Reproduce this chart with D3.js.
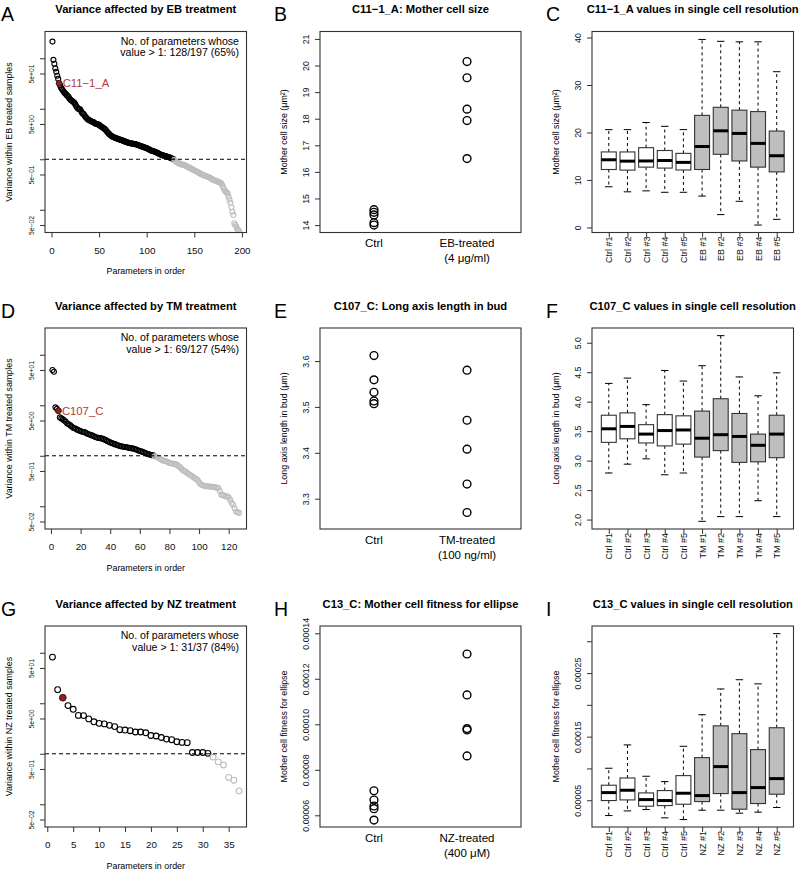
<!DOCTYPE html>
<html lang="en">
<head>
<meta charset="UTF-8">
<title>Variance panels</title>
<script src="https://cdn.jsdelivr.net/npm/d3@7"></script>
<style>
  body { margin: 0; background: #fff; }
  svg { font-family: "Liberation Sans", Arial, Helvetica, sans-serif; }
</style>
</head>
<body>
<div id="chart"></div>
<script>
// ---- data ----

// A: variance within EB treated samples, sorted (197 parameters)
var varEB = [214, 93, 78, 63, 54, 45, 39, 32, 29, 26,
  24.5, 23, 21.4, 20.4, 19.5, 18.6, 17.8, 17, 15.8, 15.1,
  14.6, 14.1, 13.6, 13.2, 12.2, 11.2, 10.6, 10, 9.9, 9.8,
  9.0, 8.3, 8.0, 7.8, 7.2, 6.8, 6.5, 6.2, 6.0, 5.9,
  5.75, 5.6, 5.55, 5.45, 5.25, 5.1, 5.0, 4.95, 4.9, 4.8,
  4.6, 4.45, 4.35, 4.2, 4.1, 3.95, 3.8, 3.6, 3.4, 3.25,
  3.1, 3.0, 2.9, 2.8, 2.75, 2.7, 2.65, 2.6, 2.57, 2.5,
  2.48, 2.45, 2.4, 2.37, 2.34, 2.3, 2.26, 2.21, 2.19, 2.14,
  2.11, 2.09, 2.07, 2.05, 2.04, 2.02, 2.0, 1.98, 1.96, 1.95,
  1.92, 1.88, 1.85, 1.82, 1.78, 1.76, 1.73, 1.71, 1.68, 1.66,
  1.62, 1.58, 1.55, 1.51, 1.48, 1.46, 1.44, 1.42, 1.40, 1.38,
  1.35, 1.32, 1.29, 1.26, 1.23, 1.21, 1.20, 1.18, 1.16, 1.15,
  1.13, 1.12, 1.10, 1.09, 1.07, 1.05, 1.02, 1.01,
  0.98, 0.91, 0.89, 0.87, 0.85, 0.83, 0.81, 0.80, 0.79, 0.78, 0.77, 0.76,
  0.74, 0.72, 0.71, 0.69, 0.68, 0.66, 0.65, 0.63, 0.62, 0.60,
  0.59, 0.58, 0.56, 0.55, 0.54, 0.52, 0.51, 0.50, 0.49, 0.48,
  0.47, 0.466, 0.46, 0.45, 0.447, 0.435, 0.42, 0.41, 0.40, 0.39,
  0.385, 0.38, 0.373, 0.367, 0.36, 0.355, 0.347, 0.34, 0.316, 0.288,
  0.263, 0.24, 0.229, 0.219, 0.209, 0.182, 0.158, 0.138, 0.112, 0.091,
  0.079, 0.054, 0.050, 0.047, 0.042, 0.040, 0.037];

// D: variance within TM treated samples (127 parameters)
var varTM = [50, 46, 9.1, 8.5, 7.8, 5.75, 5.5, 5.25, 5.0, 4.7,
  4.35, 4.2, 4.0, 3.8, 3.6, 3.5, 3.4, 3.25, 3.15, 3.1,
  3.0, 2.95, 2.9, 2.8, 2.7, 2.63, 2.57, 2.5, 2.43, 2.35,
  2.3, 2.26, 2.24, 2.21, 2.18, 2.11, 2.04, 1.97, 1.9, 1.84,
  1.78, 1.74, 1.70, 1.66, 1.62, 1.58, 1.55, 1.53, 1.51, 1.49,
  1.47, 1.45, 1.43, 1.41, 1.40, 1.38, 1.35, 1.32, 1.27, 1.24,
  1.22, 1.19, 1.16, 1.12, 1.10, 1.07, 1.05, 1.03, 1.016,
  0.98, 0.955, 0.93, 0.89, 0.85, 0.82, 0.80, 0.785, 0.77, 0.75, 0.72,
  0.71, 0.70, 0.69, 0.685, 0.66, 0.63, 0.60, 0.56, 0.52, 0.50,
  0.48, 0.457, 0.436, 0.417, 0.40, 0.38, 0.363, 0.347, 0.33, 0.30,
  0.275, 0.263, 0.257, 0.25, 0.25, 0.248, 0.245, 0.244, 0.243, 0.24,
  0.237, 0.234, 0.229, 0.20, 0.17, 0.166, 0.162, 0.158, 0.155, 0.151,
  0.135, 0.117, 0.107, 0.091, 0.079, 0.076, 0.074];

// G: variance within NZ treated samples (37 parameters)
var varNZ = [82, 18.6, 12.9, 9.0, 7.6, 5.75, 5.7, 4.9, 4.3, 4.0,
  3.9, 3.65, 3.45, 3.0, 2.95, 2.86, 2.7, 2.7, 2.6, 2.3,
  2.25, 2.1, 1.95, 1.9, 1.73, 1.68, 1.66, 1.06, 1.06, 1.06,
  1.02, 0.86, 0.69, 0.6, 0.34, 0.30, 0.184];

// highlighted parameter in each sorted list (1-based rank)
var hiRank = [8, 5, 3];
var hiName = ["C11\u22121_A", "C107_C", ""];

var logTicks = [100, 50, 10, 5, 1, 0.5, 0.1, 0.05];
var logTickLabels = ["", "5e+01", "", "5e+00", "", "5e\u221201", "", "5e\u221202"];
var xTicksEB = [0, 50, 100, 150, 200];
var xTicksTM = [0, 20, 40, 60, 80, 100, 120];
var xTicksNZ = [0, 5, 10, 15, 20, 25, 30, 35];

// B, E, H: per-sample means
var ebCtrl = [14.0, 14.09, 14.38, 14.48, 14.58];
var ebTreated = [20.15, 19.54, 18.36, 17.93, 16.50];
var tmCtrl = [3.612, 3.559, 3.532, 3.513, 3.507];
var tmTreated = [3.580, 3.471, 3.408, 3.332, 3.270];
var nzCtrl = [7.08e-5, 6.67e-5, 6.41e-5, 6.29e-5, 5.79e-5];
var nzTreated = [13.09e-5, 11.29e-5, 9.81e-5, 9.75e-5, 8.61e-5];

// C, F, I: single cell box plots
var groupsEB = ["Ctrl #1", "Ctrl #2", "Ctrl #3", "Ctrl #4", "Ctrl #5", "EB #1", "EB #2", "EB #3", "EB #4", "EB #5"];
var groupsTM = ["Ctrl #1", "Ctrl #2", "Ctrl #3", "Ctrl #4", "Ctrl #5", "TM #1", "TM #2", "TM #3", "TM #4", "TM #5"];
var groupsNZ = ["Ctrl #1", "Ctrl #2", "Ctrl #3", "Ctrl #4", "Ctrl #5", "NZ #1", "NZ #2", "NZ #3", "NZ #4", "NZ #5"];

var sizeLo  = [8.56, 7.5, 7.7, 7.4, 7.4, 6.6, 2.7, 5.5, 0.5, 1.7];
var sizeQ1  = [12.2, 12.07, 12.7, 12.5, 12.1, 12.2, 15.4, 14.0, 12.7, 11.7];
var sizeMed = [14.25, 13.96, 14.0, 14.1, 13.7, 17.05, 20.35, 19.8, 17.7, 15.1];
var sizeQ3  = [15.9, 15.9, 16.8, 16.2, 15.6, 23.6, 25.3, 24.7, 24.4, 20.3];
var sizeHi  = [20.6, 20.6, 22.1, 21.3, 20.6, 39.6, 39.2, 39.1, 39.1, 32.8];

var axisLo  = [2.79, 2.94, 3.03, 2.76, 2.79, 1.97, 2.05, 2.05, 2.32, 2.05];
var axisQ1  = [3.31, 3.37, 3.30, 3.25, 3.28, 3.06, 3.17, 2.97, 2.98, 3.05];
var axisMed = [3.54, 3.58, 3.45, 3.51, 3.52, 3.38, 3.44, 3.41, 3.26, 3.45];
var axisQ3  = [3.77, 3.81, 3.61, 3.78, 3.76, 3.84, 4.05, 3.80, 3.45, 3.77];
var axisHi  = [4.31, 4.40, 3.95, 4.53, 4.35, 4.61, 5.12, 4.42, 4.10, 4.49];

var fitLo  = [2.59e-5, 3.32e-5, 3.53e-5, 2.23e-5, 1.96e-5, 3.43e-5, 3.43e-5, 2.96e-5, 3.12e-5, 3.85e-5];
var fitQ1  = [4.95e-5, 5.05e-5, 4.06e-5, 4.16e-5, 4.37e-5, 4.79e-5, 6.05e-5, 3.59e-5, 4.48e-5, 5.94e-5];
var fitMed = [6.2e-5, 6.57e-5, 5.1e-5, 4.95e-5, 6.1e-5, 5.73e-5, 10.29e-5, 6.2e-5, 6.99e-5, 8.4e-5];
var fitQ3  = [7.36e-5, 8.5e-5, 6.15e-5, 6.52e-5, 8.87e-5, 11.7e-5, 16.7e-5, 15.47e-5, 12.96e-5, 16.4e-5];
var fitHi  = [10.03e-5, 13.7e-5, 8.77e-5, 7.93e-5, 13.48e-5, 18.45e-5, 22.5e-5, 23.95e-5, 23.3e-5, 31.2e-5];

// ---- layout ----
var FONT = "'Liberation Sans', Arial, Helvetica, sans-serif";
var colLeft = [45, 320, 592];
var colRight = [246.5, 521, 793.5];
var rowTop = [31.5, 328, 626];
var plotH = 201;
var letterX = [1, 274, 546];

var svg = d3.select("#chart").append("svg")
    .attr("width", 800)
    .attr("height", 870);
svg.append("rect").attr("width", 800).attr("height", 870).attr("fill", "white");

function frame(r, c) {
    svg.append("rect")
        .attr("x", colLeft[c]).attr("y", rowTop[r])
        .attr("width", colRight[c] - colLeft[c]).attr("height", plotH)
        .attr("fill", "none").attr("stroke", "#333").attr("stroke-width", 1.1);
}

// letter, bold title and rotated y label shared by every panel
function decorate(r, c, letter, title, ylab) {
    var shift = rowTop[r] - rowTop[0];
    svg.append("text").attr("x", letterX[c]).attr("y", shift + 21)
        .attr("font-size", 19.5).text(letter);
    svg.append("text").attr("x", (colLeft[c] + colRight[c]) / 2).attr("y", shift + 13)
        .attr("text-anchor", "middle").attr("font-weight", "bold").attr("font-size", 11.2)
        .text(title);
    svg.append("text")
        .attr("transform", "translate(" + (colLeft[c] - 33.5) + "," + (rowTop[r] + plotH / 2) + ") rotate(-90)")
        .attr("text-anchor", "middle").attr("font-size", 8.9).text(ylab);
}

function yAxis(yScale, c, ticks, labels, fs) {
    var ax = svg.append("g")
        .attr("transform", "translate(" + colLeft[c] + ",0)")
        .call(d3.axisLeft(yScale).tickValues(ticks).tickSize(5).tickSizeOuter(0)
            .tickFormat(function(d, i) { return labels[i]; }));
    ax.attr("font-family", FONT).attr("font-size", fs);
    ax.select(".domain").remove();
    ax.selectAll(".tick line").attr("stroke", "#333");
    ax.selectAll(".tick text")
        .attr("x", null).attr("dy", null)
        .attr("transform", "translate(-11.5,0) rotate(-90)")
        .attr("text-anchor", "middle")
        .attr("fill", "#111");
}

// left column: sorted variances on a log axis
function logPanel(r, values, rank, name, xDomain, xTicks, letter, title, ylab, note) {
    var c = 0;
    var top = rowTop[r], bottom = rowTop[r] + plotH;
    var x = d3.scaleLinear().domain(xDomain).range([colLeft[c], colRight[c]]);
    var y = d3.scaleLog().domain([Math.pow(10, -1.45), Math.pow(10, 2.53)]).range([bottom, top]);

    var clipId = "clip" + r;
    svg.append("clipPath").attr("id", clipId).append("rect")
        .attr("x", colLeft[c]).attr("y", top)
        .attr("width", colRight[c] - colLeft[c]).attr("height", plotH);

    var pts = svg.append("g").attr("clip-path", "url(#" + clipId + ")");
    var rad = values.length < 50 ? 2.9 : 2.5;

    pts.selectAll("circle.pt")
        .data(values)
        .enter()
        .append("circle")
            .attr("class", "pt")
            .attr("cx", function(d, i) { return x(i + 1); })
            .attr("cy", function(d) { return y(d); })
            .attr("r", rad)
            .attr("fill", "none")
            .attr("stroke", function(d) { return d > 1 ? "#000" : "#bebebe"; })
            .attr("stroke-width", 1.1);

    // threshold line at 1
    svg.append("line")
        .attr("x1", colLeft[c]).attr("x2", colRight[c])
        .attr("y1", y(1)).attr("y2", y(1))
        .attr("stroke", "#000").attr("stroke-dasharray", "4,3");

    var hx = x(rank), hy = y(values[rank - 1]);
    pts.append("circle")
        .attr("cx", hx).attr("cy", hy).attr("r", rad + 0.4)
        .attr("fill", "#8b2323").attr("stroke", "#5a1717").attr("stroke-width", 1);
    if (name) {
        svg.append("text").attr("x", hx + 3.5).attr("y", hy + 4)
            .attr("font-size", 11.3).attr("fill", "#b23a3a").text(name);
    }

    svg.append("text").attr("x", colRight[c] - 7.5).attr("y", top + 13)
        .attr("text-anchor", "end").attr("font-size", 10.6).text("No. of parameters whose");
    svg.append("text").attr("x", colRight[c] - 7.5).attr("y", top + 24.5)
        .attr("text-anchor", "end").attr("font-size", 10.6).text(note);

    frame(r, c);
    yAxis(y, c, logTicks, logTickLabels, 6.8);

    var ax = svg.append("g")
        .attr("transform", "translate(0," + bottom + ")")
        .call(d3.axisBottom(x).tickValues(xTicks).tickSize(5).tickSizeOuter(0));
    ax.attr("font-family", FONT).attr("font-size", 9.8);
    ax.select(".domain").remove();
    ax.selectAll(".tick line").attr("stroke", "#333");
    ax.selectAll(".tick text").attr("y", 21).attr("dy", null).attr("fill", "#111");

    svg.append("text").attr("x", (colLeft[c] + colRight[c]) / 2).attr("y", bottom + 41.5)
        .attr("text-anchor", "middle").attr("font-size", 8.9).text("Parameters in order");

    decorate(r, c, letter, title, ylab);
}

// middle column: five sample means per condition
function stripPanel(r, ctrl, treated, yDomain, ticks, labels, cats, letter, title, ylab) {
    var c = 1;
    var top = rowTop[r], bottom = rowTop[r] + plotH;
    var x = d3.scaleLinear().domain([0.42, 2.58]).range([colLeft[c], colRight[c]]);
    var y = d3.scaleLinear().domain(yDomain).range([bottom, top]);

    [ctrl, treated].forEach(function(vals, k) {
        svg.selectAll(null)
            .data(vals)
            .enter()
            .append("circle")
                .attr("cx", x(k + 1))
                .attr("cy", function(d) { return y(d); })
                .attr("r", 3.9)
                .attr("fill", "none")
                .attr("stroke", "#000")
                .attr("stroke-width", 1.4);
    });

    frame(r, c);
    yAxis(y, c, ticks, labels, 8.8);

    svg.append("text").attr("x", x(1)).attr("y", bottom + 14.5)
        .attr("text-anchor", "middle").attr("font-size", 11.5).text(cats[0]);
    svg.append("text").attr("x", x(2)).attr("y", bottom + 14.5)
        .attr("text-anchor", "middle").attr("font-size", 11.5).text(cats[1]);
    svg.append("text").attr("x", x(2)).attr("y", bottom + 29.5)
        .attr("text-anchor", "middle").attr("font-size", 11.5).text(cats[2]);

    decorate(r, c, letter, title, ylab);
}

// right column: box plots per sample
function boxPanel(r, groups, lo, q1, med, q3, hi, yDomain, ticks, labels, letter, title, ylab) {
    var c = 2;
    var top = rowTop[r], bottom = rowTop[r] + plotH;
    var x = d3.scaleLinear().domain([0.1, 10.9]).range([colLeft[c], colRight[c]]);
    var y = d3.scaleLinear().domain(yDomain).range([bottom, top]);
    var hw = x(1.4) - x(1);

    var g = svg.append("g");
    groups.forEach(function(name, i) {
        var cx = x(i + 1);
        var fill = i < 5 ? "#fff" : "#bebebe";
        g.append("line").attr("x1", cx).attr("x2", cx).attr("y1", y(q3[i])).attr("y2", y(hi[i]))
            .attr("stroke", "#000").attr("stroke-dasharray", "3,3");
        g.append("line").attr("x1", cx).attr("x2", cx).attr("y1", y(q1[i])).attr("y2", y(lo[i]))
            .attr("stroke", "#000").attr("stroke-dasharray", "3,3");
        g.append("line").attr("x1", cx - hw / 2).attr("x2", cx + hw / 2).attr("y1", y(hi[i])).attr("y2", y(hi[i]))
            .attr("stroke", "#000");
        g.append("line").attr("x1", cx - hw / 2).attr("x2", cx + hw / 2).attr("y1", y(lo[i])).attr("y2", y(lo[i]))
            .attr("stroke", "#000");
        g.append("rect")
            .attr("x", cx - hw).attr("y", y(q3[i]))
            .attr("width", 2 * hw).attr("height", y(q1[i]) - y(q3[i]))
            .attr("fill", fill).attr("stroke", "#333").attr("stroke-width", 1.1);
        g.append("line").attr("x1", cx - hw).attr("x2", cx + hw).attr("y1", y(med[i])).attr("y2", y(med[i]))
            .attr("stroke", "#000").attr("stroke-width", 3);
    });

    frame(r, c);
    yAxis(y, c, ticks, labels, 8.8);

    var ax = svg.append("g")
        .attr("transform", "translate(0," + bottom + ")")
        .call(d3.axisBottom(x).tickValues(d3.range(1, groups.length + 1)).tickSize(5).tickSizeOuter(0)
            .tickFormat(function(d) { return groups[d - 1]; }));
    ax.attr("font-family", FONT).attr("font-size", 9);
    ax.select(".domain").remove();
    ax.selectAll(".tick line").attr("stroke", "#333");
    ax.selectAll(".tick text")
        .attr("y", null).attr("dy", null)
        .attr("transform", "translate(3.2,4) rotate(-90)")
        .attr("text-anchor", "end")
        .attr("fill", "#111");

    decorate(r, c, letter, title, ylab);
}

// ---- row 1: EB ----
logPanel(0, varEB, hiRank[0], hiName[0], [-6.84, 204.84], xTicksEB, "A",
    "Variance affected by EB treatment", "Variance within EB treated samples",
    "value > 1: 128/197 (65%)");
stripPanel(1 - 1, ebCtrl, ebTreated, [13.72, 21.28], [14, 15, 16, 17, 18, 19, 20, 21],
    ["14", "15", "16", "17", "18", "19", "20", "21"],
    ["Ctrl", "EB-treated", "(4 \u03bcg/ml)"], "B",
    "C11\u22121_A: Mother cell size", "Mother cell size (\u03bcm\u00b2)");
boxPanel(0, groupsEB, sizeLo, sizeQ1, sizeMed, sizeQ3, sizeHi, [-1.07, 41.27],
    [0, 10, 20, 30, 40], ["0", "10", "20", "30", "40"], "C",
    "C11\u22121_A values in single cell resolution", "Mother cell size (\u03bcm\u00b2)");

// ---- row 2: TM ----
logPanel(1, varTM, hiRank[1], hiName[1], [-4.04, 132.04], xTicksTM, "D",
    "Variance affected by TM treatment", "Variance within TM treated samples",
    "value > 1: 69/127 (54%)");
stripPanel(1, tmCtrl, tmTreated, [3.234, 3.672], [3.3, 3.4, 3.5, 3.6],
    ["3.3", "3.4", "3.5", "3.6"],
    ["Ctrl", "TM-treated", "(100 ng/ml)"], "E",
    "C107_C: Long axis length in bud", "Long axis length in bud (\u03bcm)");
boxPanel(1, groupsTM, axisLo, axisQ1, axisMed, axisQ3, axisHi, [1.84, 5.25],
    [2.0, 2.5, 3.0, 3.5, 4.0, 4.5, 5.0], ["2.0", "2.5", "3.0", "3.5", "4.0", "4.5", "5.0"], "F",
    "C107_C values in single cell resolution", "Long axis length in bud (\u03bcm)");

// ---- row 3: NZ ----
logPanel(2, varNZ, hiRank[2], hiName[2], [-0.44, 38.44], xTicksNZ, "G",
    "Variance affected by NZ treatment", "Variance within NZ treated samples",
    "value > 1: 31/37 (84%)");
stripPanel(2, nzCtrl, nzTreated, [5.486e-5, 14.32e-5], [6e-5, 8e-5, 10e-5, 12e-5, 14e-5],
    ["0.00006", "0.00008", "0.00010", "0.00012", "0.00014"],
    ["Ctrl", "NZ-treated", "(400 \u03bcM)"], "H",
    "C13_C: Mother cell fitness for ellipse", "Mother cell fitness for ellipse");
boxPanel(2, groupsNZ, fitLo, fitQ1, fitMed, fitQ3, fitHi, [0.79e-5, 32.4e-5],
    [5e-5, 10e-5, 15e-5, 20e-5, 25e-5, 30e-5], ["0.00005", "", "0.00015", "", "0.00025", ""], "I",
    "C13_C values in single cell resolution", "Mother cell fitness for ellipse");
</script>
</body>
</html>
